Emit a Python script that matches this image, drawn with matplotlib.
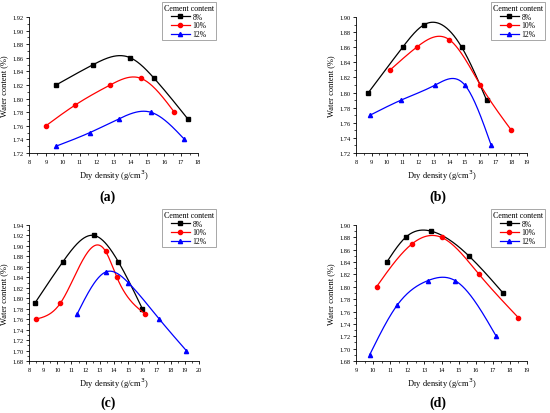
import numpy as np
import matplotlib
matplotlib.use('Agg')
import matplotlib.pyplot as plt
from matplotlib.ticker import MultipleLocator, FormatStrFormatter

plt.rcParams['font.family'] = ['Liberation Serif', 'DejaVu Serif']

labels = ['8%', '10%', '12%']
colors = ['black', 'red', 'blue']
markers = ['s', 'o', '^']

# panel (a)
a_x = [[9.6, 11.8, 14.0, 15.4, 17.4],
       [9.0, 10.7, 12.8, 14.6, 16.6],
       [9.6, 11.6, 13.3, 15.2, 17.2]]
a_y = [[1.82, 1.85, 1.86, 1.83, 1.77],
       [1.76, 1.79, 1.82, 1.83, 1.78],
       [1.73, 1.75, 1.77, 1.78, 1.74]]
# panel (b)
b_x = [[8.8, 11.0, 12.4, 14.8, 16.4],
       [10.2, 11.9, 14.0, 16.0, 18.0],
       [8.9, 10.9, 13.1, 15.0, 16.7]]
b_y = [[1.80, 1.86, 1.89, 1.86, 1.79],
       [1.83, 1.86, 1.87, 1.81, 1.75],
       [1.77, 1.79, 1.81, 1.81, 1.73]]
# panel (c)
c_x = [[8.4, 10.4, 12.6, 14.3, 16.0],
       [8.5, 10.2, 13.4, 14.2, 16.2],
       [11.4, 13.4, 15.0, 17.2, 19.1]]
c_y = [[1.79, 1.87, 1.92, 1.87, 1.78],
       [1.76, 1.79, 1.89, 1.84, 1.77],
       [1.77, 1.85, 1.83, 1.76, 1.70]]
# panel (d)
d_x = [[10.8, 11.9, 13.4, 15.6, 17.6],
       [10.2, 12.3, 14.0, 16.2, 18.5],
       [9.8, 11.4, 13.2, 14.8, 17.2]]
d_y = [[1.84, 1.88, 1.89, 1.85, 1.79],
       [1.80, 1.87, 1.88, 1.82, 1.75],
       [1.69, 1.77, 1.81, 1.81, 1.72]]

panels = [
    ('(a)', a_x, a_y, (8, 18), (1.72, 1.92)),
    ('(b)', b_x, b_y, (8, 19), (1.72, 1.90)),
    ('(c)', c_x, c_y, (8, 20), (1.68, 1.94)),
    ('(d)', d_x, d_y, (9, 19), (1.68, 1.90)),
]


def spline(x, y, n=200):
    # natural cubic spline through the points
    x = np.asarray(x, float)
    y = np.asarray(y, float)
    k = len(x)
    h = np.diff(x)
    A = np.zeros((k, k))
    r = np.zeros(k)
    A[0, 0] = A[-1, -1] = 1
    for i in range(1, k - 1):
        A[i, i - 1] = h[i - 1]
        A[i, i] = 2 * (h[i - 1] + h[i])
        A[i, i + 1] = h[i]
        r[i] = 6 * ((y[i + 1] - y[i]) / h[i] - (y[i] - y[i - 1]) / h[i - 1])
    m = np.linalg.solve(A, r)
    xs = np.linspace(x[0], x[-1], n)
    j = np.clip(np.searchsorted(x, xs) - 1, 0, k - 2)
    t0 = x[j + 1] - xs
    t1 = xs - x[j]
    hj = h[j]
    ys = (m[j] * t0**3 + m[j + 1] * t1**3) / (6 * hj) \
        + (y[j] / hj - m[j] * hj / 6) * t0 + (y[j + 1] / hj - m[j + 1] * hj / 6) * t1
    return xs, ys


fig = plt.figure(figsize=(5.5, 4.14), dpi=100)
W, H = 550, 414
# pixel boxes: left, top, right, bottom
boxes = [(29, 18, 198, 154), (356, 18, 527, 154),
         (29, 226, 199, 362), (356, 226, 527, 362)]
# legend upper-right corners in pixels
legend_pos = [(216, 3), (545, 3), (216, 210), (545, 210)]
label_pos = [(108, 197), (438, 197), (108, 403), (438, 403)]

for (name, xs, ys, xl, yl), (l, t, r, b), lp, tp in zip(panels, boxes, legend_pos, label_pos):
    ax = fig.add_axes([l / W, 1 - b / H, (r - l) / W, (b - t) / H])
    for sx, sy, c, mk, lab in zip(xs, ys, colors, markers, labels):
        px, py = spline(sx, sy)
        ax.plot(px, py, color=c, lw=0.9)
        ax.plot(sx, sy, ls='none', marker=mk, color=c, ms=3)
        ax.plot([], [], color=c, marker=mk, ms=3, lw=0.9, label=lab)
    ax.set_xlim(*xl)
    ax.set_ylim(*yl)
    ax.xaxis.set_major_locator(MultipleLocator(1))
    ax.xaxis.set_minor_locator(MultipleLocator(0.5))
    ax.yaxis.set_major_locator(MultipleLocator(0.02))
    ax.yaxis.set_minor_locator(MultipleLocator(0.01))
    ax.yaxis.set_major_formatter(FormatStrFormatter('%.2f'))
    for s in ['top', 'right']:
        ax.spines[s].set_visible(False)
    for s in ['left', 'bottom']:
        ax.spines[s].set_linewidth(0.6)
    ax.tick_params(which='major', direction='out', length=2.5, width=0.6, labelsize=4.6, pad=1.5)
    ax.tick_params(which='minor', direction='out', length=1.5, width=0.5)
    ax.set_xlabel('Dry density (g/cm$^3$)', fontsize=6, labelpad=3)
    ax.set_ylabel('Water content (%)', fontsize=6)
    ax.yaxis.set_label_coords(-21 / (r - l), 0.5)
    leg = ax.legend(title='Cement content', loc='upper right',
                    bbox_to_anchor=(lp[0] / W, 1 - lp[1] / H), bbox_transform=fig.transFigure,
                    fontsize=5.5, title_fontsize=5.8, fancybox=False, framealpha=1,
                    edgecolor='#999999', borderpad=0.25, labelspacing=0.1,
                    handlelength=2.4, handletextpad=0.4, borderaxespad=0)
    leg.get_frame().set_linewidth(0.6)
    fig.text(tp[0] / W, 1 - tp[1] / H, name, fontsize=10, fontweight='bold',
             ha='center', va='center')

fig.savefig('out.png', dpi=100)
